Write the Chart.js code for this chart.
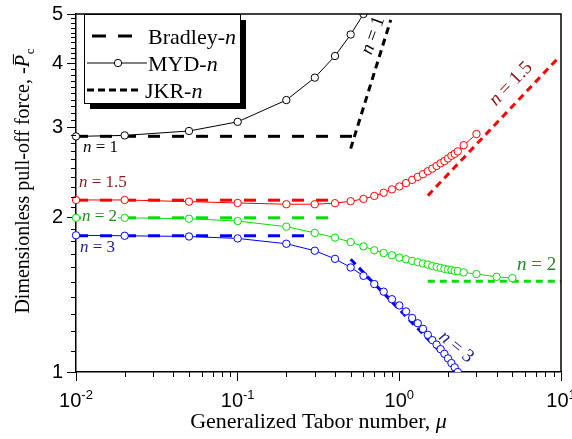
<!DOCTYPE html>
<html><head><meta charset="utf-8">
<script src="https://cdn.jsdelivr.net/npm/chart.js@4.4.0/dist/chart.umd.min.js"></script>
<style>html,body{margin:0;padding:0;background:#fff}canvas{display:block}</style>
</head><body>
<canvas id="c" width="572" height="439"></canvas>
<script>
// ---------------- data ----------------
const seriesN = ['1', '1.5', '2', '3'];
const muMYD = [0.01,0.02,0.05,0.1,0.2,0.3,0.4,0.5,0.6,0.7,0.8,0.9,1.0,1.1,1.2,1.3,1.4,1.5,1.6,1.7,1.8,1.9,2.0,2.1,2.2,2.3,2.5,3,4,5];
const mydN1  = [2.884,2.897,2.955,3.079,3.396,3.756,4.14,4.56,5.0];
const mydN15 = [2.167,2.167,2.151,2.138,2.126,2.126,2.136,2.155,2.177,2.207,2.239,2.273,2.303,2.338,2.372,2.404,2.433,2.466,2.495,2.525,2.556,2.581,2.612,2.643,2.667,2.696,2.772,2.915];
const mydN2  = [2.0,2.0,1.992,1.971,1.922,1.869,1.830,1.793,1.759,1.728,1.707,1.690,1.672,1.660,1.648,1.638,1.629,1.621,1.611,1.604,1.597,1.590,1.585,1.581,1.576,1.574,1.565,1.553,1.534,1.525];
const mydN3  = [1.849,1.845,1.839,1.823,1.780,1.725,1.663,1.600,1.541,1.485,1.435,1.387,1.349,1.313,1.275,1.245,1.214,1.182,1.154,1.131,1.108,1.085,1.063,1.041,1.021,1.0];
const bradleyMuStart = [0.01, 0.01, 0.01, 0.01];
const bradleyMuEnd   = [0.545, 0.4, 0.4, 0.28];
const bradleyLevel   = [2.885, 2.165, 2.0, 1.845];
const jkrMuStart = [0.5, 1.5, 1.5, 0.5];
const jkrMuEnd   = [0.885, 9.8, 10, 2.6];
const jkrPStart  = [2.73, 2.21, 1.503, 1.66];
const jkrPEnd    = [4.87, 4.13, 1.503, 0.97];
const xMajorTicks = [0.01, 0.1, 1, 10];
const xTickExps = ['-2', '-1', '0', '1'];
const yMajorTicks = [1, 2, 3, 4, 5];
const legendNames = ['Bradley', 'MYD', 'JKR'];

// ---------------- styles ----------------
const lineColors  = ['#000000', '#ff0000', '#00e000', '#0000ff'];
const labelColors = ['#000000', '#8b1a1a', '#1f8a1f', '#1c1c8c'];
const mydSeries = [mydN1, mydN15, mydN2, mydN3];
const SERIF = '"Liberation Serif", "Times New Roman", serif';
const SANS = '"Liberation Sans", Arial, sans-serif';

const datasets = [];
mydSeries.forEach((ys, i) => {
  datasets.push({
    label: 'MYD-n ' + seriesN[i],
    data: ys.map((v, k) => ({x: muMYD[k], y: v})),
    borderColor: lineColors[i], borderWidth: 1,
    pointRadius: 3.7, pointBorderWidth: 1, pointBorderColor: lineColors[i],
    pointBackgroundColor: '#ffffff', pointStyle: 'circle',
    order: 0, clip: {left: 6, top: 0, right: 0, bottom: 0}
  });
});
seriesN.forEach((n, i) => {
  datasets.push({
    label: 'Bradley-n ' + n,
    data: [{x: bradleyMuStart[i], y: bradleyLevel[i]}, {x: bradleyMuEnd[i], y: bradleyLevel[i]}],
    borderColor: lineColors[i], borderWidth: 3, borderDash: [12, 12],
    pointRadius: 0, order: 1, clip: 0
  });
});
seriesN.forEach((n, i) => {
  datasets.push({
    label: 'JKR-n ' + n,
    data: [{x: jkrMuStart[i], y: jkrPStart[i]}, {x: jkrMuEnd[i], y: jkrPEnd[i]}],
    borderColor: lineColors[i], borderWidth: 3, borderDash: [7, 5],
    pointRadius: 0, order: 1, clip: 0
  });
});

function nLabel(ctx, x, y, num, color, size, angleDeg, centered, bg) {
  ctx.save();
  ctx.translate(x, y);
  ctx.rotate(angleDeg * Math.PI / 180);
  const fi = `italic ${size}px ${SERIF}`, fr = `${size}px ${SERIF}`;
  ctx.font = fi; const w1 = ctx.measureText('n').width;
  const rest = ' = ' + num;
  ctx.font = fr; const w2 = ctx.measureText(rest).width;
  const W = w1 + w2;
  const x0 = centered ? -W / 2 : 0;
  const yb = centered ? size * 0.33 : 0;
  ctx.textBaseline = 'alphabetic'; ctx.textAlign = 'left';
  if (bg) { ctx.fillStyle = '#fff'; ctx.fillRect(x0 - 1, yb - size * 0.72, W + 2, size * 0.82); }
  ctx.fillStyle = color;
  ctx.font = fi; ctx.fillText('n', x0, yb);
  ctx.font = fr; ctx.fillText(rest, x0 + w1, yb);
  ctx.restore();
}

const decor = {
  id: 'decor',
  afterDatasetsDraw(chart) {
    const {ctx} = chart;
    nLabel(ctx, 83, 152, seriesN[0], labelColors[0], 17, 0, false, false);
    nLabel(ctx, 79, 187, seriesN[1], labelColors[1], 17, 0, false, false);
    nLabel(ctx, 82, 221, seriesN[2], labelColors[2], 17, 0, false, true);
    nLabel(ctx, 80, 252, seriesN[3], labelColors[3], 17, 0, false, false);
    nLabel(ctx, 372, 35, seriesN[0], labelColors[0], 19, -70, true, false);
    nLabel(ctx, 510, 83, seriesN[1], labelColors[1], 19, -46, true, false);
    nLabel(ctx, 517, 270, seriesN[2], labelColors[2], 19, 0, false, false);
    nLabel(ctx, 457, 346, seriesN[3], labelColors[3], 19, 40, true, false);
  },
  afterDraw(chart) {
    const {ctx, chartArea: a, scales: {x, y}} = chart;
    ctx.save();
    // frame top & right
    ctx.strokeStyle = '#000'; ctx.lineWidth = 1.5;
    ctx.beginPath();
    ctx.moveTo(a.left, a.top); ctx.lineTo(a.right, a.top); ctx.lineTo(a.right, a.bottom);
    ctx.stroke();
    // minor ticks
    ctx.lineWidth = 1;
    ctx.beginPath();
    for (let e = -2; e < 1; e++) for (let m = 2; m < 10; m++) {
      const px = Math.round(x.getPixelForValue(m * Math.pow(10, e))) + 0.5;
      ctx.moveTo(px, a.bottom); ctx.lineTo(px, a.bottom + 5);
    }
    for (let k = 11; k < 50; k++) {
      if (k % 10 === 0) continue;
      const py = Math.round(y.getPixelForValue(k / 10)) + 0.5;
      ctx.moveTo(a.left, py); ctx.lineTo(a.left - 5, py);
    }
    ctx.stroke();
    // x tick labels 10^k
    ctx.fillStyle = '#000'; ctx.textBaseline = 'alphabetic'; ctx.textAlign = 'left';
    xMajorTicks.forEach((v, i) => {
      const px = x.getPixelForValue(v);
      ctx.font = `20px ${SANS}`; const wb = ctx.measureText('10').width;
      ctx.font = `13px ${SANS}`; const we = ctx.measureText(xTickExps[i]).width;
      const x0 = px - (wb + we) / 2;
      ctx.font = `20px ${SANS}`; ctx.fillText('10', x0, 407);
      ctx.font = `13px ${SANS}`; ctx.fillText(xTickExps[i], x0 + wb, 399);
    });
    // x title
    ctx.font = `22px ${SERIF}`;
    const t1 = 'Generalized Tabor number, ';
    const w1 = ctx.measureText(t1).width;
    ctx.font = `italic 22px ${SERIF}`;
    const w2 = ctx.measureText('\u03bc').width;
    const xs = (a.left + a.right) / 2 - (w1 + w2) / 2;
    ctx.font = `22px ${SERIF}`; ctx.fillText(t1, xs, 428);
    ctx.font = `italic 22px ${SERIF}`; ctx.fillText('\u03bc', xs + w1, 428);
    // y title (rotated)
    ctx.save();
    ctx.translate(29, 181);
    ctx.rotate(-Math.PI / 2);
    const fs = 20;
    ctx.font = `${fs}px ${SERIF}`;
    const s1 = 'Dimensionless pull-off force, -';
    const ws1 = ctx.measureText(s1).width;
    ctx.font = `italic ${fs}px ${SERIF}`; const wp = ctx.measureText('P').width;
    ctx.font = `${Math.round(fs * 0.65)}px ${SERIF}`; const wc = ctx.measureText('c').width;
    const total = ws1 + wp + wc + 1;
    let tx = -total / 2;
    ctx.font = `${fs}px ${SERIF}`; ctx.fillText(s1, tx, 0); tx += ws1;
    ctx.font = `italic ${fs}px ${SERIF}`; ctx.fillText('P', tx, 0);
    ctx.lineWidth = 1; ctx.strokeStyle = '#000';
    ctx.beginPath(); ctx.moveTo(tx + 3, -fs * 0.78); ctx.lineTo(tx + wp + 1, -fs * 0.78); ctx.stroke();
    tx += wp + 1;
    ctx.font = `${Math.round(fs * 0.65)}px ${SERIF}`; ctx.fillText('c', tx, 5);
    ctx.restore();
    // legend
    const L = 84, T = 14, W = 156, H = 89;
    ctx.fillStyle = '#000'; ctx.fillRect(L + 6, T + 6, W, H);
    ctx.fillStyle = '#fff'; ctx.fillRect(L, T, W, H);
    ctx.strokeStyle = '#000'; ctx.lineWidth = 1; ctx.strokeRect(L + 0.5, T + 0.5, W, H);
    const rowsY = [44, 71, 98];
    const mydDs = chart.data.datasets[0], brDs = chart.data.datasets[4], jkDs = chart.data.datasets[8];
    // Bradley sample
    ctx.strokeStyle = brDs.borderColor; ctx.lineWidth = brDs.borderWidth; ctx.setLineDash([14, 12]);
    ctx.beginPath(); ctx.moveTo(92, rowsY[0] - 8); ctx.lineTo(133, rowsY[0] - 8); ctx.stroke();
    // MYD sample
    ctx.setLineDash([]); ctx.strokeStyle = mydDs.borderColor; ctx.lineWidth = mydDs.borderWidth;
    ctx.beginPath(); ctx.moveTo(87, rowsY[1] - 8); ctx.lineTo(147, rowsY[1] - 8); ctx.stroke();
    ctx.fillStyle = '#fff'; ctx.beginPath(); ctx.arc(118, rowsY[1] - 8, 3.7, 0, Math.PI * 2); ctx.fill(); ctx.stroke();
    // JKR sample
    ctx.strokeStyle = jkDs.borderColor; ctx.lineWidth = jkDs.borderWidth; ctx.setLineDash([7, 4]);
    ctx.beginPath(); ctx.moveTo(87, rowsY[2] - 8); ctx.lineTo(142, rowsY[2] - 8); ctx.stroke();
    ctx.setLineDash([]);
    ctx.fillStyle = '#000';
    legendNames.forEach((nm, i) => {
      const lx = i === 2 ? 145 : 148;
      ctx.font = `22px ${SERIF}`; const t = nm + '-'; ctx.fillText(t, lx, rowsY[i]);
      const tw = ctx.measureText(t).width;
      ctx.font = `italic 22px ${SERIF}`; ctx.fillText('n', lx + tw, rowsY[i]);
    });
    ctx.restore();
  }
};

new Chart(document.getElementById('c'), {
  type: 'line',
  data: {datasets},
  options: {
    responsive: false, animation: false, devicePixelRatio: 1,
    layout: {padding: {left: 0, top: 10, right: 11, bottom: 0}},
    plugins: {legend: {display: false}, tooltip: {enabled: false}},
    elements: {line: {tension: 0}},
    scales: {
      x: {
        type: 'logarithmic', min: 0.01, max: 10,
        afterFit(s) { s.height = 67; },
        afterBuildTicks(s) { s.ticks = xMajorTicks.map(v => ({value: v, major: true})); },
        ticks: {display: false},
        grid: {drawOnChartArea: false, drawTicks: true, tickLength: 9, color: '#000', lineWidth: 1},
        border: {display: true, color: '#000', width: 1.5}
      },
      y: {
        type: 'logarithmic', min: 1, max: 5,
        afterFit(s) { s.width = 76; },
        afterBuildTicks(s) { s.ticks = yMajorTicks.map(v => ({value: v, major: true})); },
        ticks: {callback: v => String(v), autoSkip: false, color: '#000', padding: 4,
                font: {family: SANS, size: 20, lineHeight: 1}},
        grid: {drawOnChartArea: false, drawTicks: true, tickLength: 9, color: '#000', lineWidth: 1},
        border: {display: true, color: '#000', width: 1.5}
      }
    }
  },
  plugins: [decor]
});
</script>
</body></html>
